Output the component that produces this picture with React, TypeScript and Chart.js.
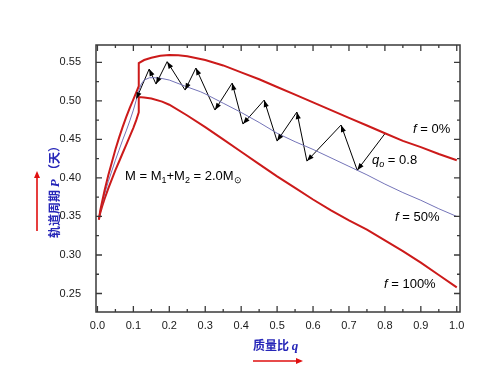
import React, { useEffect, useRef } from "react";
import { Chart, registerables } from "chart.js";

Chart.register(...registerables);

// ---- axis ranges & ticks ----
const X_MIN = -0.004;
const X_MAX = 1.009;
const Y_MIN = 0.226;
const Y_MAX = 0.5725;
const xMajorTicks = [0, 0.1, 0.2, 0.3, 0.4, 0.5, 0.6, 0.7, 0.8, 0.9, 1.0];
const xMinorTicks = [0.05, 0.15, 0.25, 0.35, 0.45, 0.55, 0.65, 0.75, 0.85, 0.95];
const yMajorTicks = [0.25, 0.3, 0.35, 0.4, 0.45, 0.5, 0.55];
const yMinorTicks = [0.275, 0.325, 0.375, 0.425, 0.475, 0.525];

// ---- f = 0% (upper red) ----
const upperQ = [0.004, 0.008, 0.013, 0.02, 0.03, 0.04, 0.05, 0.06, 0.07, 0.08, 0.09, 0.1, 0.108, 0.115,
  0.115, 0.13, 0.15, 0.175, 0.2, 0.225, 0.25, 0.3, 0.35, 0.4, 0.45, 0.5, 0.55, 0.6, 0.65, 0.7, 0.75, 0.8, 0.85, 0.9, 0.95, 1.0];
const upperP = [0.346, 0.358, 0.369, 0.384, 0.403, 0.42, 0.437, 0.452, 0.466, 0.479, 0.491, 0.502, 0.511, 0.519,
  0.549, 0.553, 0.556, 0.5585, 0.5595, 0.5592, 0.558, 0.553, 0.546, 0.537, 0.528, 0.518, 0.508, 0.498, 0.488, 0.478, 0.468, 0.458, 0.448, 0.44, 0.431, 0.423];

// ---- f = 50% (blue) ----
const halfQ = [0.004, 0.008, 0.013, 0.02, 0.03, 0.04, 0.05, 0.06, 0.07, 0.08, 0.09, 0.1, 0.108, 0.115, 0.122, 0.13, 0.145, 0.16, 0.18, 0.2,
  0.25, 0.286, 0.3, 0.35, 0.4, 0.45, 0.5, 0.55, 0.6, 0.65, 0.7, 0.75, 0.8, 0.85, 0.9, 0.95, 1.0];
const halfP = [0.346, 0.357, 0.366, 0.379, 0.395, 0.409, 0.423, 0.436, 0.449, 0.461, 0.474, 0.488, 0.501, 0.513, 0.522, 0.527, 0.53, 0.53, 0.529, 0.527,
  0.518, 0.512, 0.509, 0.497, 0.485, 0.472, 0.458, 0.447, 0.437, 0.426, 0.415, 0.404, 0.392, 0.381, 0.371, 0.36, 0.35];

// ---- f = 100% (lower red) ----
const lowerQ = [0.004, 0.008, 0.013, 0.02, 0.03, 0.04, 0.05, 0.06, 0.07, 0.08, 0.09, 0.1, 0.108, 0.115,
  0.115, 0.13, 0.15, 0.18, 0.2, 0.25, 0.3, 0.35, 0.4, 0.45, 0.5, 0.55, 0.6, 0.65, 0.7, 0.75, 0.8, 0.85, 0.9, 0.95, 1.0];
const lowerP = [0.346, 0.355, 0.363, 0.373, 0.386, 0.398, 0.41, 0.421, 0.432, 0.443, 0.454, 0.465, 0.475, 0.485,
  0.505, 0.5045, 0.503, 0.499, 0.495, 0.481, 0.466, 0.45, 0.434, 0.418, 0.402, 0.387, 0.372, 0.358, 0.345, 0.333, 0.319, 0.305, 0.29, 0.274, 0.258];

// ---- evolutionary zigzag (starting at q0 = 0.8) ----
const zigQ = [0.801, 0.723, 0.678, 0.583, 0.555, 0.5, 0.464, 0.405, 0.375, 0.327, 0.274, 0.244, 0.194, 0.163, 0.144, 0.108];
const zigP = [0.458, 0.41, 0.4686, 0.4218, 0.4855, 0.4478, 0.501, 0.4699, 0.5231, 0.4881, 0.5426, 0.514, 0.5509, 0.5218, 0.5413, 0.5023];

const pts = (qs: number[], ps: number[]) => qs.map((q, i) => ({ x: q, y: ps[i] }));

const RED = "#cc1a1a";
const BLUE = "#7474b8";
const TITLE_BLUE = "#2626b8";
const AXIS = "#3a3a3a";
const SANS = '"Liberation Sans", Arial, sans-serif';

function arrowHead(ctx: CanvasRenderingContext2D, fx: number, fy: number, tx: number, ty: number, len: number, half: number, color: string) {
  const a = Math.atan2(ty - fy, tx - fx);
  ctx.save();
  ctx.fillStyle = color;
  ctx.beginPath();
  ctx.moveTo(tx, ty);
  ctx.lineTo(tx - len * Math.cos(a) + half * Math.sin(a), ty - len * Math.sin(a) - half * Math.cos(a));
  ctx.lineTo(tx - len * Math.cos(a) - half * Math.sin(a), ty - len * Math.sin(a) + half * Math.cos(a));
  ctx.closePath();
  ctx.fill();
  ctx.restore();
}

type Run = { t: string; font: string; dy?: number };
function drawRuns(ctx: CanvasRenderingContext2D, x: number, y: number, runs: Run[], color: string) {
  ctx.save();
  ctx.fillStyle = color;
  ctx.textBaseline = "alphabetic";
  ctx.textAlign = "left";
  let cx = x;
  for (const r of runs) {
    ctx.font = r.font;
    ctx.fillText(r.t, cx, y + (r.dy || 0));
    cx += ctx.measureText(r.t).width;
  }
  ctx.restore();
}

const decor = {
  id: "decor",
  afterDatasetsDraw(chart: any) {
    const ctx: CanvasRenderingContext2D = chart.ctx;
    const meta = chart.getDatasetMeta(3);
    const d = meta.data;
    ctx.save();
    for (let i = 1; i < d.length; i++) {
      arrowHead(ctx, d[i - 1].x, d[i - 1].y, d[i].x, d[i].y, 7, 2.6, "#000");
    }
    ctx.restore();
  },
  afterDraw(chart: any) {
    const ctx: CanvasRenderingContext2D = chart.ctx;
    const { left, right, top, bottom } = chart.chartArea;
    const xs = chart.scales.x;
    const ys = chart.scales.y;
    ctx.save();
    // frame
    ctx.strokeStyle = AXIS;
    ctx.lineWidth = 1.5;
    ctx.strokeRect(left, top, right - left, bottom - top);
    // ticks (inward, mirrored)
    ctx.lineWidth = 1.3;
    ctx.beginPath();
    const xt = (v: number, L: number) => {
      const px = xs.getPixelForValue(v);
      ctx.moveTo(px, bottom); ctx.lineTo(px, bottom - L);
      ctx.moveTo(px, top); ctx.lineTo(px, top + L);
    };
    const yt = (v: number, L: number) => {
      const py = ys.getPixelForValue(v);
      ctx.moveTo(left, py); ctx.lineTo(left + L, py);
      ctx.moveTo(right, py); ctx.lineTo(right - L, py);
    };
    xMajorTicks.forEach((v) => xt(v, 6));
    xMinorTicks.forEach((v) => xt(v, 3));
    yMajorTicks.forEach((v) => yt(v, 6));
    yMinorTicks.forEach((v) => yt(v, 3));
    ctx.stroke();
    ctx.restore();

    // annotations
    const f13 = `13px ${SANS}`;
    const fi13 = `italic 13px ${SANS}`;
    const f9 = `9px ${SANS}`;
    drawRuns(ctx, 125, 180, [
      { t: "M = M", font: f13 },
      { t: "1", font: f9, dy: 3 },
      { t: "+M", font: f13 },
      { t: "2", font: f9, dy: 3 },
      { t: " = 2.0M", font: f13 },
      { t: "\u2299", font: f9, dy: 3 },
    ], "#000");
    drawRuns(ctx, 413, 133, [{ t: "f", font: fi13 }, { t: " = 0%", font: f13 }], "#000");
    drawRuns(ctx, 372, 164, [{ t: "q", font: fi13 }, { t: "o", font: `italic 9px ${SANS}`, dy: 3 }, { t: " = 0.8", font: f13 }], "#000");
    drawRuns(ctx, 395, 221, [{ t: "f", font: fi13 }, { t: " = 50%", font: f13 }], "#000");
    drawRuns(ctx, 384, 288, [{ t: "f", font: fi13 }, { t: " = 100%", font: f13 }], "#000");

    // x axis title
    const cjk = `bold 12px "Noto Sans CJK SC", sans-serif`;
    const serifBI = `bold italic 13px "Liberation Serif", serif`;
    drawRuns(ctx, 253, 350, [{ t: "质量比 ", font: cjk }, { t: "q", font: serifBI }], TITLE_BLUE);
    // y axis title (rotated)
    ctx.save();
    ctx.translate(59, 238);
    ctx.rotate(-Math.PI / 2);
    drawRuns(ctx, 0, 0, [{ t: "轨道周期 ", font: cjk }, { t: "P ", font: serifBI }, { t: "（天）", font: cjk }], TITLE_BLUE);
    ctx.restore();

    // red arrows near titles
    ctx.save();
    ctx.strokeStyle = "#e01010";
    ctx.lineWidth = 1.6;
    ctx.beginPath();
    ctx.moveTo(253, 361); ctx.lineTo(297, 361);
    ctx.moveTo(37, 231); ctx.lineTo(37, 177);
    ctx.stroke();
    arrowHead(ctx, 253, 361, 303, 361, 7, 3, "#e01010");
    arrowHead(ctx, 37, 231, 37, 171, 7, 3, "#e01010");
    ctx.restore();
  },
};

export default function App() {
  const ref = useRef<HTMLCanvasElement | null>(null);
  useEffect(() => {
    if (!ref.current) return;
    const chart = new Chart(ref.current, {
      type: "scatter",
      data: {
        datasets: [
          { data: pts(upperQ, upperP), showLine: true, borderColor: RED, borderWidth: 2, pointRadius: 0, tension: 0 },
          { data: pts(halfQ, halfP), showLine: true, borderColor: BLUE, borderWidth: 1, pointRadius: 0, tension: 0 },
          { data: pts(lowerQ, lowerP), showLine: true, borderColor: RED, borderWidth: 2, pointRadius: 0, tension: 0 },
          { data: pts(zigQ, zigP), showLine: true, borderColor: "#000", borderWidth: 1, pointRadius: 0, tension: 0 },
        ],
      } as any,
      options: {
        animation: false,
        responsive: false,
        devicePixelRatio: 1,
        events: [],
        layout: { padding: { left: 0, right: 40, top: 45, bottom: 0 } },
        plugins: { legend: { display: false }, tooltip: { enabled: false } },
        scales: {
          x: {
            type: "linear",
            min: X_MIN,
            max: X_MAX,
            grid: { display: false, drawTicks: false },
            border: { display: false },
            afterBuildTicks: (s: any) => { s.ticks = xMajorTicks.map((v) => ({ value: v })); },
            afterFit: (s: any) => { s.height = 63; },
            ticks: { padding: 7, color: "#1a1a1a", font: { family: SANS, size: 11 }, callback: (v: any) => Number(v).toFixed(1), maxRotation: 0, autoSkip: false },
          },
          y: {
            type: "linear",
            min: Y_MIN,
            max: Y_MAX,
            grid: { display: false, drawTicks: false },
            border: { display: false },
            afterBuildTicks: (s: any) => { s.ticks = yMajorTicks.map((v) => ({ value: v })); },
            afterFit: (s: any) => { s.width = 96; },
            ticks: { padding: 15, color: "#1a1a1a", font: { family: SANS, size: 11 }, callback: (v: any) => Number(v).toFixed(2), autoSkip: false },
          },
        },
      } as any,
      plugins: [decor],
    });
    return () => chart.destroy();
  }, []);
  return (
    <div style={{ position: "fixed", left: 0, top: 0, width: 500, height: 375, background: "#fff" }}>
      <canvas ref={ref} width={500} height={375} style={{ width: 500, height: 375, display: "block" }} />
    </div>
  );
}
